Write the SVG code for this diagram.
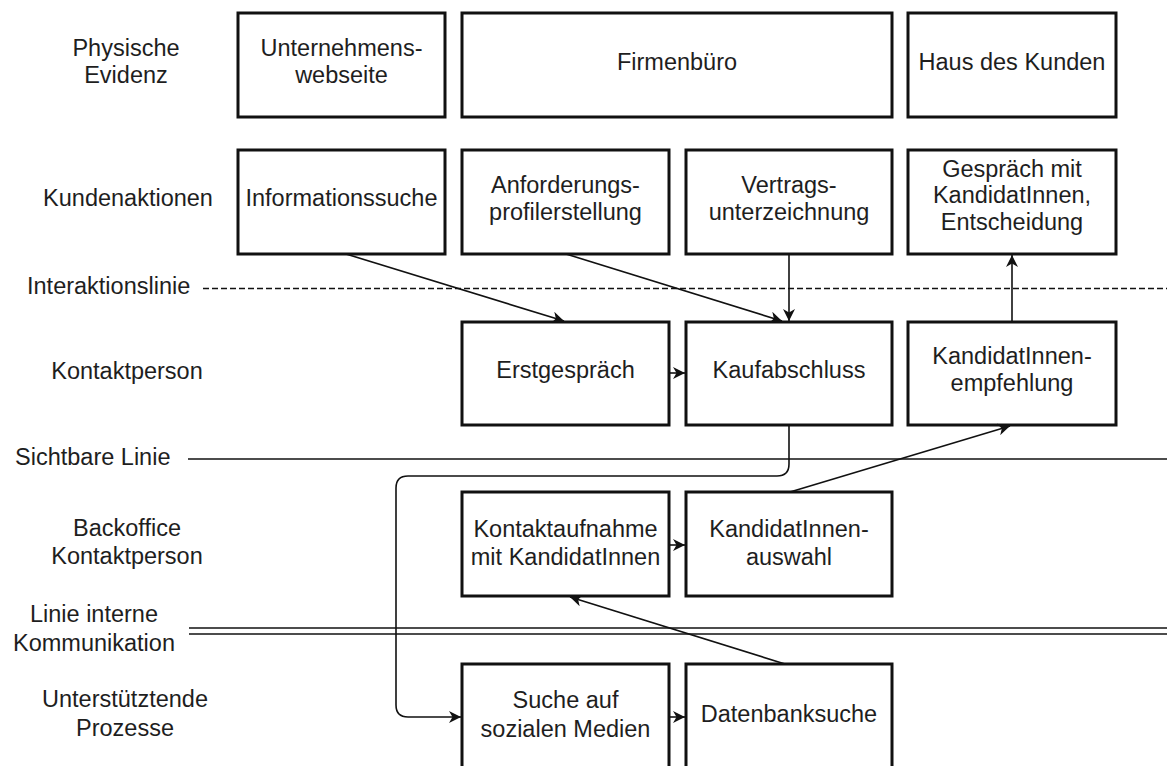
<svg xmlns="http://www.w3.org/2000/svg" width="1167" height="766" viewBox="0 0 1167 766">
<style>
.box{fill:#fff;stroke:#111;stroke-width:3}
.t{font-family:"Liberation Sans",Arial,sans-serif;font-size:23.5px;fill:#1e1e1e;text-anchor:middle}
.ts{font-family:"Liberation Sans",Arial,sans-serif;font-size:23.5px;fill:#1e1e1e;text-anchor:start}
.c{fill:none;stroke:#111;stroke-width:1.6}
.ln{fill:none;stroke:#111;stroke-width:1.5}
</style>
<defs>
<marker id="arr" markerUnits="userSpaceOnUse" markerWidth="14" markerHeight="12" refX="12" refY="6" orient="auto">
<path d="M0,0 L12,6 L0,12 L3.5,6 z" fill="#111"/>
</marker>
</defs>
<rect width="1167" height="766" fill="#fff"/>

<g id="lanes">
<text class="t" x="126" y="56">Physische</text>
<text class="t" x="126" y="83">Evidenz</text>
<text class="t" x="128" y="206">Kundenaktionen</text>
<text class="ts" x="27" y="294">Interaktionslinie</text>
<text class="t" x="127" y="379">Kontaktperson</text>
<text class="ts" x="15" y="465">Sichtbare Linie</text>
<text class="t" x="127" y="536">Backoffice</text>
<text class="t" x="127" y="564">Kontaktperson</text>
<text class="t" x="94" y="622">Linie interne</text>
<text class="t" x="94" y="651">Kommunikation</text>
<text class="t" x="125" y="707">Unterstütztende</text>
<text class="t" x="125" y="736">Prozesse</text>
<line class="ln" x1="203" y1="288.5" x2="1167" y2="288.5" stroke-dasharray="6 3"/>
<line class="ln" x1="188" y1="459" x2="1167" y2="459"/>
<line class="ln" x1="189" y1="628" x2="1167" y2="628"/>
<line class="ln" x1="189" y1="634" x2="1167" y2="634"/>
</g>

<g id="n-webseite"><rect class="box" x="238" y="13" width="207" height="104"/><text class="t" x="341.5" y="56">Unternehmens-</text><text class="t" x="341.5" y="83">webseite</text></g>
<g id="n-firmenbuero"><rect class="box" x="462" y="13" width="430" height="104"/><text class="t" x="677" y="70">Firmenbüro</text></g>
<g id="n-haus"><rect class="box" x="908" y="13" width="208" height="104"/><text class="t" x="1012" y="70">Haus des Kunden</text></g>

<g id="n-info"><rect class="box" x="238" y="150" width="207" height="104"/><text class="t" x="341.5" y="206">Informationssuche</text></g>
<g id="n-anford"><rect class="box" x="462" y="150" width="207" height="104"/><text class="t" x="565.5" y="193">Anforderungs-</text><text class="t" x="565.5" y="220">profilerstellung</text></g>
<g id="n-vertrag"><rect class="box" x="686" y="150" width="206" height="104"/><text class="t" x="789" y="193">Vertrags-</text><text class="t" x="789" y="220">unterzeichnung</text></g>
<g id="n-gespraech"><rect class="box" x="908" y="150" width="208" height="104"/><text class="t" x="1012" y="177">Gespräch mit</text><text class="t" x="1012" y="203">KandidatInnen,</text><text class="t" x="1012" y="230">Entscheidung</text></g>

<g id="n-erst"><rect class="box" x="462" y="322" width="207" height="103"/><text class="t" x="565.5" y="378">Erstgespräch</text></g>
<g id="n-kauf"><rect class="box" x="686" y="322" width="206" height="103"/><text class="t" x="789" y="378">Kaufabschluss</text></g>
<g id="n-empf"><rect class="box" x="908" y="322" width="208" height="103"/><text class="t" x="1012" y="364">KandidatInnen-</text><text class="t" x="1012" y="391">empfehlung</text></g>

<g id="n-kontakt"><rect class="box" x="462" y="492" width="207" height="104"/><text class="t" x="565.5" y="537">Kontaktaufnahme</text><text class="t" x="565.5" y="565">mit KandidatInnen</text></g>
<g id="n-auswahl"><rect class="box" x="686" y="492" width="206" height="104"/><text class="t" x="789" y="537">KandidatInnen-</text><text class="t" x="789" y="565">auswahl</text></g>

<g id="n-social"><rect class="box" x="462" y="664" width="207" height="110"/><text class="t" x="565.5" y="708">Suche auf</text><text class="t" x="565.5" y="737">sozialen Medien</text></g>
<g id="n-db"><rect class="box" x="686" y="664" width="206" height="110"/><text class="t" x="789" y="722">Datenbanksuche</text></g>

<g id="connectors">
<path class="c" d="M346,254 L564,321" marker-end="url(#arr)"/>
<path class="c" d="M566,254 L782,321" marker-end="url(#arr)"/>
<path class="c" d="M789,254 L789,321" marker-end="url(#arr)"/>
<path class="c" d="M1012,322 L1012,255" marker-end="url(#arr)"/>
<path class="c" d="M669,373 L685,373" marker-end="url(#arr)"/>
<path class="c" d="M790,492 L1010,426" marker-end="url(#arr)"/>
<path class="c" d="M669,545 L685,545" marker-end="url(#arr)"/>
<path class="c" d="M785,664 L570,597" marker-end="url(#arr)"/>
<path class="c" d="M669,717 L685,717" marker-end="url(#arr)"/>
<path class="c" d="M789,425 L789,464 Q789,476 777,476 L408,476 Q396,476 396,488 L396,705 Q396,717 408,717 L461,717" marker-end="url(#arr)"/>
</g>
</svg>
